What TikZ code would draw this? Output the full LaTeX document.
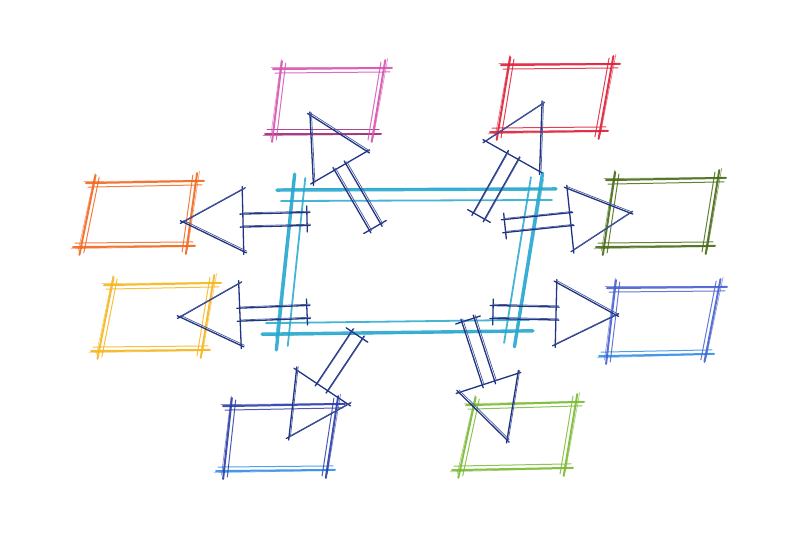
\documentclass[tikz,border=0pt]{standalone}
\usetikzlibrary{calc}

\definecolor{hubcyan}{RGB}{38,168,206}
\definecolor{inkblue}{RGB}{32,52,132}
\definecolor{skpink}{RGB}{214,84,178}
\definecolor{skplum}{RGB}{160,40,120}
\definecolor{skred}{RGB}{222,32,56}
\definecolor{skorange}{RGB}{242,104,32}
\definecolor{skforest}{RGB}{72,108,22}
\definecolor{skyellow}{RGB}{246,182,30}
\definecolor{skroyal}{RGB}{72,98,206}
\definecolor{skazure}{RGB}{52,142,230}
\definecolor{sknavy}{RGB}{44,62,168}
\definecolor{sklime}{RGB}{122,186,52}

% sketched box: name, colour, colour of the bottom side, gap of the second stroke
\newcommand\sketchbox[4]{%
	\draw[pencil, #2] (#1-nw) -- (#1-ne);
	\draw[pencil thin, #2] ([yshift=-#4]#1-nw) -- ([yshift=-#4]#1-ne);
	\draw[pencil faint, #2] ([yshift=1.5pt]#1-nw) -- ([yshift=.5pt]#1-ne);
	\draw[pencil, #3] (#1-sw) -- (#1-se);
	\draw[pencil thin, #3] ([yshift=#4]#1-sw) -- ([yshift=#4]#1-se);
	\draw[pencil faint, #3] ([yshift=-1.5pt]#1-sw) -- ([yshift=-.5pt]#1-se);
	\draw[pencil, #2] (#1-nw) -- (#1-sw);
	\draw[pencil thin, #2] ([xshift=#4]#1-nw) -- ([xshift=#4]#1-sw);
	\draw[pencil faint, #2] ([xshift=-1pt]#1-nw) -- ([xshift=-2pt]#1-sw);
	\draw[pencil, #2] (#1-ne) -- (#1-se);
	\draw[pencil thin, #2] ([xshift=-#4]#1-ne) -- ([xshift=-#4]#1-se);
	\draw[pencil faint, #2] ([xshift=2pt]#1-ne) -- ([xshift=1pt]#1-se);
}

% hollow block arrow from a tail to a tip
\newcommand\blockarrow[2]{%
	\coordinate (#1-b) at ($(#2)!60pt!(#1)$);
	\draw[inkline] ($(#1)!6.5pt!90:(#2)$) -- ($(#1-b)!6.5pt!-90:(#1)$);
	\draw[inkline] ($(#1)!6.5pt!-90:(#2)$) -- ($(#1-b)!6.5pt!90:(#1)$);
	\draw[inkline] ($(#1)!10pt!90:(#2)$) -- ($(#1)!10pt!-90:(#2)$);
	\draw[inkline] ($(#1-b)!31pt!-90:(#1)$) -- ($(#1-b)!31pt!90:(#1)$);
	\draw[inkline] ($(#1-b)!31pt!-90:(#1)$) -- (#2);
	\draw[inkline] ($(#1-b)!31pt!90:(#1)$) -- (#2);
	\begin{scope}[transform canvas={xshift=1.5pt, yshift=1.2pt}]
		\draw[inkline thin] ($(#1)!6.5pt!90:(#2)$) -- ($(#1-b)!6.5pt!-90:(#1)$);
		\draw[inkline thin] ($(#1)!6.5pt!-90:(#2)$) -- ($(#1-b)!6.5pt!90:(#1)$);
		\draw[inkline thin] ($(#1-b)!31pt!-90:(#1)$) -- (#2);
		\draw[inkline thin] ($(#1-b)!31pt!90:(#1)$) -- (#2);
	\end{scope}
}

\begin{document}
\begin{tikzpicture}[x=1pt, y=-1pt]
	\tikzset{pencil/.style={line width=2pt, line cap=round, shorten <=-8pt, shorten >=-8pt, opacity=.9},
		pencil thin/.style={line width=1pt, line cap=round, shorten <=-6pt, shorten >=-6pt, opacity=.85},
		pencil faint/.style={line width=.7pt, line cap=round, shorten <=-10pt, shorten >=-4pt, opacity=.6},
		inkline/.style={inkblue, line width=1.3pt, line cap=round, shorten <=-3pt, shorten >=-3pt},
		inkline thin/.style={inkblue!80, line width=.7pt, line cap=round, shorten <=-2pt, shorten >=-1pt}}

	\fill[white] (0,0) rectangle (800,534);
	\useasboundingbox (0,0) rectangle (800,534);

	% corners of the boxes
	\coordinate (hub-nw) at (293,190);    \coordinate (hub-ne) at (540,189);
	\coordinate (hub-se) at (517,331);    \coordinate (hub-sw) at (278,334);
	\coordinate (pink-nw) at (281,69);    \coordinate (pink-ne) at (384,68);
	\coordinate (pink-se) at (373,134);   \coordinate (pink-sw) at (273,134);
	\coordinate (red-nw) at (509,65);     \coordinate (red-ne) at (612,64);
	\coordinate (red-se) at (600,131);    \coordinate (red-sw) at (498,132);
	\coordinate (orange-nw) at (94,183);  \coordinate (orange-ne) at (196,181);
	\coordinate (orange-se) at (187,246); \coordinate (orange-sw) at (81,247);
	\coordinate (forest-nw) at (614,180); \coordinate (forest-ne) at (718,178);
	\coordinate (forest-se) at (707,246); \coordinate (forest-sw) at (604,247);
	\coordinate (yellow-nw) at (112,285); \coordinate (yellow-ne) at (213,283);
	\coordinate (yellow-se) at (202,350); \coordinate (yellow-sw) at (99,351);
	\coordinate (royal-nw) at (615,288);  \coordinate (royal-ne) at (719,287);
	\coordinate (royal-se) at (706,354);  \coordinate (royal-sw) at (607,356);
	\coordinate (navy-nw) at (231,406);   \coordinate (navy-ne) at (337,404);
	\coordinate (navy-se) at (327,470);   \coordinate (navy-sw) at (224,471);
	\coordinate (lime-nw) at (474,405);   \coordinate (lime-ne) at (576,402);
	\coordinate (lime-se) at (565,468);   \coordinate (lime-sw) at (460,470);

	\begin{scope}[pencil/.append style={line width=3.4pt, shorten <=-16pt, shorten >=-16pt},
		pencil thin/.append style={line width=1.8pt, shorten <=-12pt, shorten >=-12pt}]
		\sketchbox{hub}{hubcyan}{hubcyan}{11pt}
	\end{scope}
	\sketchbox{pink}{skpink}{skplum}{4pt}
	\sketchbox{red}{skred}{skred}{4pt}
	\sketchbox{orange}{skorange}{skorange}{4pt}
	\sketchbox{forest}{skforest}{skforest}{4pt}
	\sketchbox{yellow}{skyellow}{skyellow}{4pt}
	\sketchbox{royal}{skroyal}{skazure}{4pt}
	\sketchbox{navy}{sknavy}{skazure}{4pt}
	\sketchbox{lime}{sklime}{sklime}{4pt}

	% arrow tails on the hub, tips at the boxes
	\coordinate (to-pink) at (375,227);   \coordinate (pink-tip) at (310,115);
	\coordinate (to-red) at (479,216);    \coordinate (red-tip) at (542,104);
	\coordinate (to-orange) at (307,219); \coordinate (orange-tip) at (183,222);
	\coordinate (to-yellow) at (307,312); \coordinate (yellow-tip) at (180,317);
	\coordinate (to-forest) at (505,226); \coordinate (forest-tip) at (630,213);
	\coordinate (to-royal) at (493,312);  \coordinate (royal-tip) at (616,315);
	\coordinate (to-navy) at (357,335);   \coordinate (navy-tip) at (289,437);
	\coordinate (to-lime) at (468,320);   \coordinate (lime-tip) at (507,440);

	\blockarrow{to-pink}{pink-tip}
	\blockarrow{to-red}{red-tip}
	\blockarrow{to-orange}{orange-tip}
	\blockarrow{to-yellow}{yellow-tip}
	\blockarrow{to-forest}{forest-tip}
	\blockarrow{to-royal}{royal-tip}
	\blockarrow{to-navy}{navy-tip}
	\blockarrow{to-lime}{lime-tip}
\end{tikzpicture}
\end{document}
